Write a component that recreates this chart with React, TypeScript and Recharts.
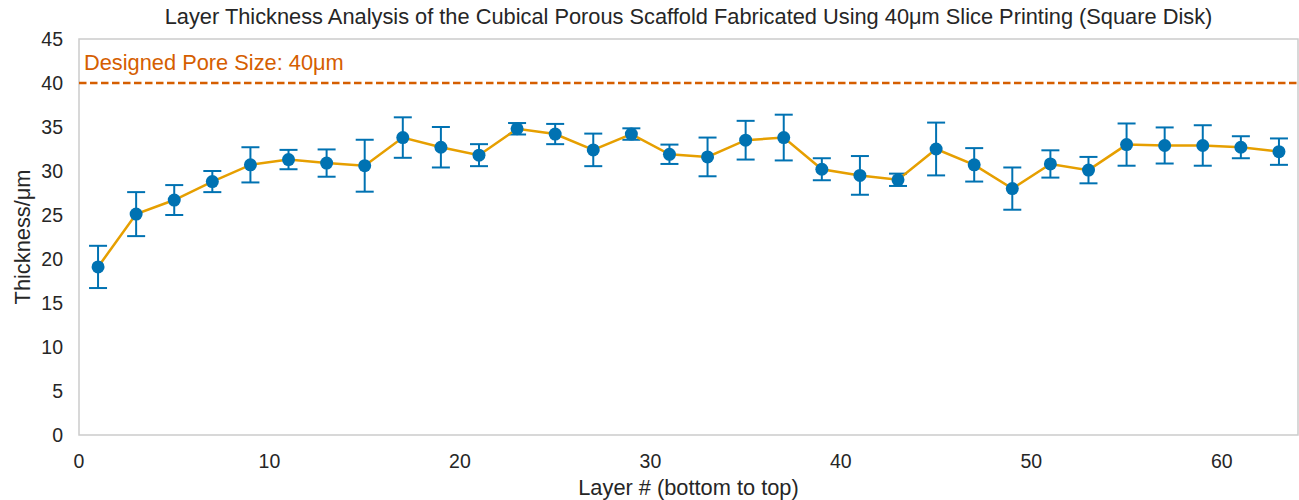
import React from 'react';
import {
  LineChart,
  Line,
  XAxis,
  YAxis,
  ErrorBar,
  ReferenceLine,
  ReferenceArea,
} from 'recharts';

// Layer index (every other layer was measured)
const layers = [
  1, 3, 5, 7, 9, 11, 13, 15, 17, 19, 21, 23, 25, 27, 29, 31,
  33, 35, 37, 39, 41, 43, 45, 47, 49, 51, 53, 55, 57, 59, 61, 63,
];

// Mean measured thickness per layer (µm)
const meanThickness = [
  19.1, 25.1, 26.7, 28.8, 30.7, 31.3, 30.9, 30.6, 33.8, 32.7, 31.8, 34.8, 34.2, 32.4, 34.2, 31.9,
  31.6, 33.5, 33.8, 30.2, 29.5, 29.0, 32.5, 30.7, 28.0, 30.8, 30.1, 33.0, 32.9, 32.9, 32.7, 32.2,
];

// Standard deviation per layer (µm)
const stdThickness = [
  2.4, 2.5, 1.7, 1.2, 2.0, 1.1, 1.55, 2.95, 2.3, 2.3, 1.25, 0.65, 1.15, 1.85, 0.65, 1.1,
  2.2, 2.2, 2.6, 1.25, 2.2, 0.7, 3.0, 1.9, 2.4, 1.55, 1.5, 2.4, 2.05, 2.3, 1.25, 1.5,
];

const designedPoreSize = 40;
const xTicks = [0, 10, 20, 30, 40, 50, 60];
const yTicks = [0, 5, 10, 15, 20, 25, 30, 35, 40, 45];

const chartData = layers.map((layer, i) => ({
  layer,
  thickness: meanThickness[i],
  sd: stdThickness[i],
}));

const FONT = '"Liberation Sans", Arial, sans-serif';
const TEXT = '#262626';

export default function App() {
  return (
    <div style={{ position: 'absolute', left: 0, top: 0, width: 1299, height: 500, fontFamily: FONT }}>
      <div
        style={{
          position: 'absolute',
          left: 79,
          width: 1219,
          top: 6,
          textAlign: 'center',
          fontSize: 21.8,
          lineHeight: '22px',
          color: TEXT,
          whiteSpace: 'nowrap',
        }}
      >
        Layer Thickness Analysis of the Cubical Porous Scaffold Fabricated Using 40μm Slice Printing (Square Disk)
      </div>
      <LineChart
        width={1299}
        height={500}
        data={chartData}
        margin={{ top: 39, right: 1, bottom: 0, left: 0 }}
      >
        <XAxis
          dataKey="layer"
          type="number"
          domain={[0, 64]}
          ticks={xTicks}
          axisLine={false}
          tickLine={false}
          tickSize={0}
          tickMargin={19}
          height={65}
          tick={{ fill: TEXT, fontSize: 19.5, fontFamily: FONT }}
          label={{
            value: 'Layer # (bottom to top)',
            position: 'insideBottom',
            offset: 5,
            fill: TEXT,
            fontSize: 21.8,
            fontFamily: FONT,
          }}
        />
        <YAxis
          type="number"
          domain={[0, 45]}
          ticks={yTicks}
          axisLine={false}
          tickLine={false}
          tickSize={0}
          tickMargin={16}
          width={79}
          tick={{ fill: TEXT, fontSize: 19.5, fontFamily: FONT }}
          label={{
            value: 'Thickness/μm',
            angle: -90,
            position: 'insideLeft',
            offset: 22,
            fill: TEXT,
            fontSize: 21.8,
            fontFamily: FONT,
            style: { textAnchor: 'middle' },
          }}
        />
        {/* plot frame */}
        <ReferenceArea
          x1={0}
          x2={64}
          y1={0}
          y2={45}
          fill="none"
          fillOpacity={0}
          stroke="#cccccc"
          strokeWidth={1.5}
        />
        <ReferenceLine
          y={designedPoreSize}
          stroke="#D55E00"
          strokeWidth={2.5}
          strokeDasharray="7.5 3.5"
          label={(props: any) => (
            <text
              x={props.viewBox.x + 5}
              y={props.viewBox.y - 13}
              fill="#D55E00"
              fontSize={21.8}
              fontFamily={FONT}
            >
              Designed Pore Size: {designedPoreSize}μm
            </text>
          )}
        />
        <Line
          dataKey="thickness"
          type="linear"
          stroke="#E69F00"
          strokeWidth={2.5}
          dot={{ r: 6.5, fill: '#0072B2', stroke: '#0072B2', strokeWidth: 0 }}
          activeDot={false}
          isAnimationActive={false}
        >
          <ErrorBar dataKey="sd" direction="y" width={9} stroke="#0072B2" strokeWidth={2} />
        </Line>
      </LineChart>
    </div>
  );
}
